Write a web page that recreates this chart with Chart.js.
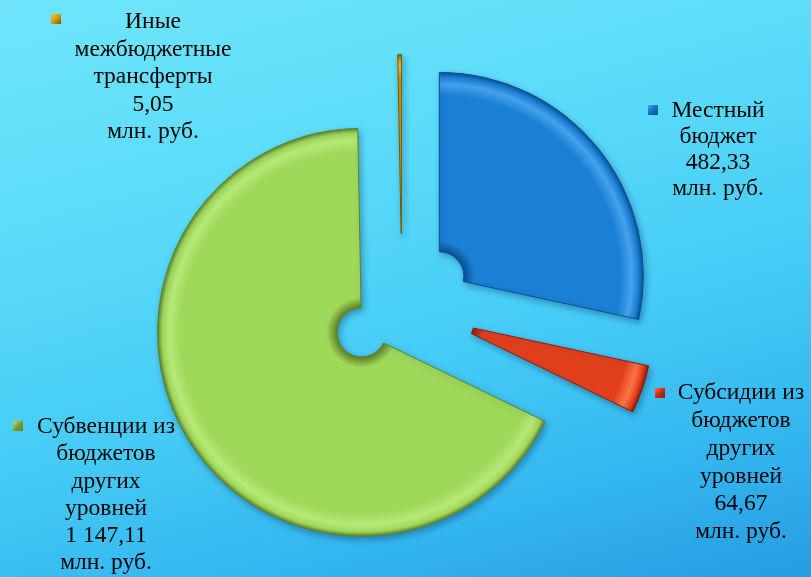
<!DOCTYPE html>
<html>
<head>
<meta charset="utf-8">
<script src="https://cdn.jsdelivr.net/npm/chart.js@4.4.1/dist/chart.umd.min.js"></script>
<style>
  html, body { margin: 0; padding: 0; }
  body {
    width: 811px; height: 577px; overflow: hidden;
    background: linear-gradient(165deg, #70e5fa 0%, #5bdcf9 30%, #45cbf6 60%, #33b5ef 82%, #259ce3 100%);
  }
  #wrap { position: relative; width: 811px; height: 577px; }
</style>
</head>
<body>
<div id="wrap"><canvas id="c" width="811" height="577"></canvas></div>
<script>
// ---- data ----
const categories = ['Местный бюджет', 'Субсидии из бюджетов других уровней', 'Субвенции из бюджетов других уровней', 'Иные межбюджетные трансферты'];
const values = [482.33, 64.67, 1147.11, 5.05];
const unitLabel = 'млн. руб.';
const labelLines = [
  ['Местный', 'бюджет'],
  ['Субсидии из', 'бюджетов', 'других', 'уровней'],
  ['Субвенции из', 'бюджетов', 'других', 'уровней'],
  ['Иные', 'межбюджетные', 'трансферты']
];

// ---- styles ----
const baseColors  = ['#1a7fd5', '#e2401c', '#a0d85a', '#c99a12'];
const lightColors = ['#45a2ec', '#ff7444', '#b8e878', '#f0c848'];
const darkColors  = ['#0d4f93', '#8e1a08', '#5f8228', '#7a5a00'];
const markerColors = ['#1a6cc0', '#c42a16', '#7d9c34', '#d09a10'];
const explode = [48, 50, 48, 48];
const labelPos = [
  { cx: 718, y: 111, lh: 26, mx: 653, my: 110 },
  { cx: 741, y: 393, lh: 27.8, mx: 660, my: 393 },
  { cx: 106, y: 427, lh: 27.2, mx: 18,  my: 426 },
  { cx: 153, y: 22,  lh: 27.5, mx: 56,  my: 19 }
];

function fmt(v) {
  const parts = v.toFixed(2).split('.');
  const int = parts[0].replace(/\B(?=(\d{3})+(?!\d))/g, ' ');
  return int + ',' + parts[1];
}

function sliceAngles(i) {
  const total = values.reduce((a, b) => a + b, 0);
  let cum = 0;
  for (let k = 0; k < i; k++) cum += values[k];
  const s = -Math.PI / 2 + 2 * Math.PI * cum / total;
  const e = s + 2 * Math.PI * values[i] / total;
  return { s, e, mid: (s + e) / 2 };
}

function sliceCenter(chart, i) {
  const a = chart.chartArea;
  const meta = chart.getDatasetMeta(0);
  const cx = (a.left + a.right) / 2 + (meta.controller.offsetX || 0);
  const cy = (a.top + a.bottom) / 2 + (meta.controller.offsetY || 0);
  const { mid } = sliceAngles(i);
  return { x: cx + explode[i] * Math.cos(mid), y: cy + explode[i] * Math.sin(mid) };
}

const OUTER = 204;
const CUT = 0.12;

function sliceFill(ctx) {
  const chart = ctx.chart;
  const i = ctx.dataIndex;
  if (!chart.chartArea) return baseColors[i];
  const c = sliceCenter(chart, i);
  const inner = OUTER * CUT;
  const g = chart.ctx.createRadialGradient(c.x, c.y, inner, c.x, c.y, OUTER);
  g.addColorStop(0, darkColors[i]);
  g.addColorStop(0.06, baseColors[i]);
  g.addColorStop(0.87, baseColors[i]);
  g.addColorStop(0.935, lightColors[i]);
  g.addColorStop(0.975, baseColors[i]);
  g.addColorStop(1, darkColors[i]);
  return g;
}

const explodePlugin = {
  id: 'explode',
  beforeDatasetsDraw(chart) {
    const meta = chart.getDatasetMeta(0);
    meta.data.forEach((arc, i) => {
      const c = sliceCenter(chart, i);
      arc.x = c.x; arc.y = c.y;
    });
    const ctx = chart.ctx;
    ctx.save();
    ctx.shadowColor = 'rgba(0, 40, 80, 0.35)';
    ctx.shadowBlur = 6;
    ctx.shadowOffsetX = 2;
    ctx.shadowOffsetY = 3;
  },
  afterDatasetsDraw(chart) {
    chart.ctx.restore();
  }
};

const labelPlugin = {
  id: 'labels',
  afterDraw(chart) {
    const ctx = chart.ctx;
    ctx.save();
    ctx.font = '23.5px "Liberation Serif", "Times New Roman", serif';
    ctx.fillStyle = '#000';
    ctx.textAlign = 'center';
    ctx.textBaseline = 'middle';
    categories.forEach((cat, i) => {
      const p = labelPos[i];
      const lines = labelLines[i].concat([fmt(values[i]), unitLabel]);
      lines.forEach((ln, k) => ctx.fillText(ln, p.cx, p.y + k * p.lh));
      // marker
      const s = 10;
      const g = ctx.createLinearGradient(p.mx - s / 2, p.my - s / 2, p.mx + s / 2, p.my + s / 2);
      g.addColorStop(0, lightColors[i]);
      g.addColorStop(0.5, markerColors[i]);
      g.addColorStop(1, darkColors[i]);
      ctx.fillStyle = g;
      ctx.fillRect(p.mx - s / 2, p.my - s / 2, s, s);
      ctx.fillStyle = '#000';
    });
    ctx.restore();
  }
};

new Chart(document.getElementById('c'), {
  type: 'doughnut',
  data: {
    labels: categories,
    datasets: [{
      data: values,
      backgroundColor: sliceFill,
      borderColor: darkColors,
      borderWidth: 1
    }]
  },
  options: {
    responsive: false,
    animation: false,
    radius: OUTER,
    cutout: (CUT * 100) + '%',
    layout: { padding: { top: 36, right: 7, left: 0, bottom: 0 } },
    plugins: { legend: { display: false }, tooltip: { enabled: false } }
  },
  plugins: [explodePlugin, labelPlugin]
});
</script>
</body>
</html>
